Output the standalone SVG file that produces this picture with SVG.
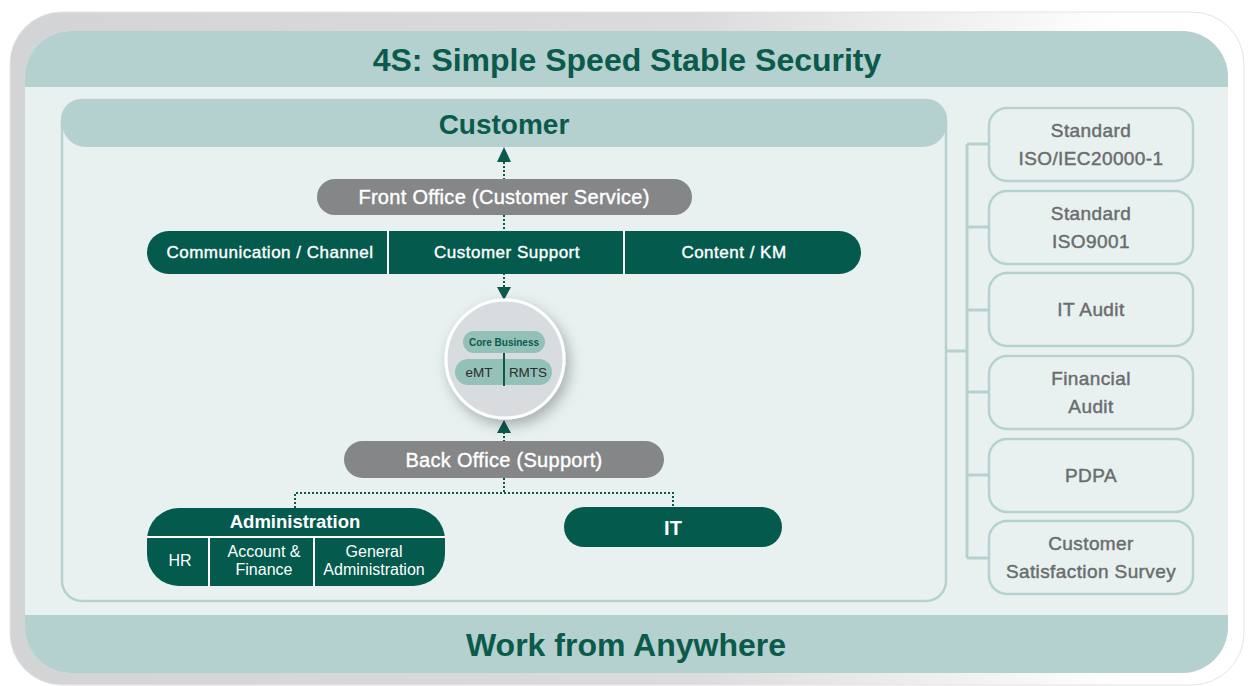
<svg xmlns="http://www.w3.org/2000/svg" width="1250" height="686" viewBox="0 0 1250 686">
<defs>
<linearGradient id="frameG" x1="0" y1="0" x2="1" y2="0">
<stop offset="0" stop-color="#d3d4d6"/>
<stop offset="0.55" stop-color="#dadbdc"/>
<stop offset="0.8" stop-color="#f4f4f4"/>
<stop offset="0.9" stop-color="#ffffff"/>
</linearGradient>
<filter id="shadow" x="-40%" y="-40%" width="180%" height="180%">
<feDropShadow dx="4" dy="6" stdDeviation="7" flood-color="#000" flood-opacity="0.28"/>
</filter>
<clipPath id="panelClip"><rect x="25" y="31" width="1203" height="642" rx="46"/></clipPath>
</defs>
<style>
.t{font-family:"Liberation Sans",Arial,sans-serif;text-anchor:middle}
.head{fill:#0b5a4c;font-weight:bold}
.wt{fill:#ffffff}
.med{stroke-width:0.4}
.wt.med{stroke:#ffffff}
.gr{fill:#6b6c6e;stroke:#6b6c6e;stroke-width:0.45;letter-spacing:0.4px}
.box{fill:#e8f1f0;stroke:#b6d2d0;stroke-width:2.5}
.ln{stroke:#b6d2d0;stroke-width:3;fill:none}
.dot{stroke:#0b5a4c;stroke-width:2;stroke-dasharray:2 2;fill:none}
.ah{fill:#0b5a4c}
.pillG{fill:#858688}
.grn{fill:#035a4d}
</style>

<!-- outer frame -->
<rect x="10" y="12" width="1234" height="673" rx="52" fill="url(#frameG)" stroke="#e3e4e5" stroke-width="1"/>

<!-- inner panel -->
<g clip-path="url(#panelClip)">
<rect x="25" y="31" width="1203" height="642" fill="#e8f1f0"/>
<rect x="25" y="31" width="1203" height="56" fill="#b4d0cf"/>
<rect x="25" y="615" width="1203" height="58" fill="#b4d0cf"/>
</g>
<text class="t head" x="627" y="71" font-size="32">4S: Simple Speed Stable Security</text>
<text class="t head" x="626" y="656" font-size="32">Work from Anywhere</text>

<!-- connectors -->
<g id="connectors">
<line class="ln" x1="946" y1="351" x2="967" y2="351"/>
<line class="ln" x1="967" y1="144" x2="967" y2="558"/>
<line class="ln" x1="967" y1="144" x2="989" y2="144"/>
<line class="ln" x1="967" y1="227" x2="989" y2="227"/>
<line class="ln" x1="967" y1="310" x2="989" y2="310"/>
<line class="ln" x1="967" y1="392" x2="989" y2="392"/>
<line class="ln" x1="967" y1="475" x2="989" y2="475"/>
<line class="ln" x1="967" y1="558" x2="989" y2="558"/>

<line class="dot" x1="504" y1="162" x2="504" y2="179"/>
<polygon class="ah" points="504,147 497,162 511,162"/>
<line class="dot" x1="504" y1="215" x2="504" y2="231"/>
<line class="dot" x1="504" y1="273" x2="504" y2="288"/>
<polygon class="ah" points="504,300 497,287 511,287"/>
<line class="dot" x1="504" y1="432" x2="504" y2="441"/>
<polygon class="ah" points="504,420 497,433 511,433"/>
<line class="dot" x1="504" y1="478" x2="504" y2="493"/>
<polyline class="dot" points="295,508 295,493 673,493 673,507"/>
</g>

<!-- customer panel -->
<g id="customer">
<rect x="62" y="100" width="884" height="501" rx="20" fill="none" stroke="#b6d2d0" stroke-width="2.5"/>
<rect x="62" y="99" width="885" height="48" rx="24" fill="#b4d0cf"/>
<text class="t head" x="504" y="134" font-size="28">Customer</text>
</g>

<g id="front-office">
<rect class="pillG" x="317" y="179" width="375" height="36" rx="18"/>
<text class="t wt med" x="504" y="204" font-size="20" letter-spacing="0.3">Front Office (Customer Service)</text>
</g>

<g id="front-bar">
<rect class="grn" x="147" y="231" width="714" height="43" rx="21.5"/>
<line x1="388" y1="231" x2="388" y2="274" stroke="#ffffff" stroke-width="2"/>
<line x1="624" y1="231" x2="624" y2="274" stroke="#ffffff" stroke-width="2"/>
<text class="t wt med" x="270" y="258" font-size="17" letter-spacing="0.5">Communication / Channel</text>
<text class="t wt med" x="507" y="258" font-size="17" letter-spacing="0.5">Customer Support</text>
<text class="t wt med" x="734" y="258" font-size="17" letter-spacing="0.5">Content / KM</text>
</g>

<g id="core">
<circle cx="505" cy="359" r="59" fill="#d9dcde" stroke="#ffffff" stroke-width="3" filter="url(#shadow)"/>
<rect x="463" y="331" width="82" height="22" rx="11" fill="#93c1b8"/>
<text class="t" x="504" y="345.5" font-size="10" font-weight="bold" fill="#0b5a4c">Core Business</text>
<rect x="455" y="359" width="97" height="26" rx="13" fill="#93c1b8"/>
<line x1="504" y1="353" x2="504" y2="386" stroke="#0b5a4c" stroke-width="2"/>
<text class="t" x="479" y="377" font-size="13.5" fill="#2b2b2b">eMT</text>
<text class="t" x="528" y="377" font-size="13.5" fill="#2b2b2b">RMTS</text>
</g>

<g id="back-office">
<rect class="pillG" x="344" y="441" width="320" height="37" rx="18.5"/>
<text class="t wt med" x="504" y="467" font-size="20" letter-spacing="0.3">Back Office (Support)</text>
</g>

<g id="administration">
<rect class="grn" x="147" y="508" width="298" height="78" rx="32"/>
<line x1="147" y1="537" x2="445" y2="537" stroke="#ffffff" stroke-width="2"/>
<line x1="209" y1="537" x2="209" y2="586" stroke="#ffffff" stroke-width="2"/>
<line x1="314" y1="537" x2="314" y2="586" stroke="#ffffff" stroke-width="2"/>
<text class="t wt" x="295" y="528" font-size="18.5" font-weight="bold">Administration</text>
<text class="t wt" x="180" y="566" font-size="16">HR</text>
<text class="t wt" x="264" y="557" font-size="16">Account &amp;</text>
<text class="t wt" x="264" y="575" font-size="16">Finance</text>
<text class="t wt" x="374" y="557" font-size="16">General</text>
<text class="t wt" x="374" y="575" font-size="16">Administration</text>
</g>

<g id="it">
<rect class="grn" x="564" y="507" width="218" height="40" rx="20"/>
<text class="t wt" x="673" y="535" font-size="20" font-weight="bold">IT</text>
</g>

<g id="std-iso20000">
<rect class="box" x="989" y="108" width="204" height="73" rx="18"/>
<text class="t gr" x="1091" y="137" font-size="19">Standard</text>
<text class="t gr" x="1091" y="165" font-size="19">ISO/IEC20000-1</text>
</g>
<g id="std-iso9001">
<rect class="box" x="989" y="191" width="204" height="73" rx="18"/>
<text class="t gr" x="1091" y="220" font-size="19">Standard</text>
<text class="t gr" x="1091" y="248" font-size="19">ISO9001</text>
</g>
<g id="it-audit">
<rect class="box" x="989" y="273" width="204" height="73" rx="18"/>
<text class="t gr" x="1091" y="316" font-size="19">IT Audit</text>
</g>
<g id="financial-audit">
<rect class="box" x="989" y="356" width="204" height="73" rx="18"/>
<text class="t gr" x="1091" y="385" font-size="19">Financial</text>
<text class="t gr" x="1091" y="413" font-size="19">Audit</text>
</g>
<g id="pdpa">
<rect class="box" x="989" y="439" width="204" height="73" rx="18"/>
<text class="t gr" x="1091" y="482" font-size="19">PDPA</text>
</g>
<g id="css">
<rect class="box" x="989" y="521" width="204" height="73" rx="18"/>
<text class="t gr" x="1091" y="550" font-size="19">Customer</text>
<text class="t gr" x="1091" y="578" font-size="19">Satisfaction Survey</text>
</g>
</svg>
